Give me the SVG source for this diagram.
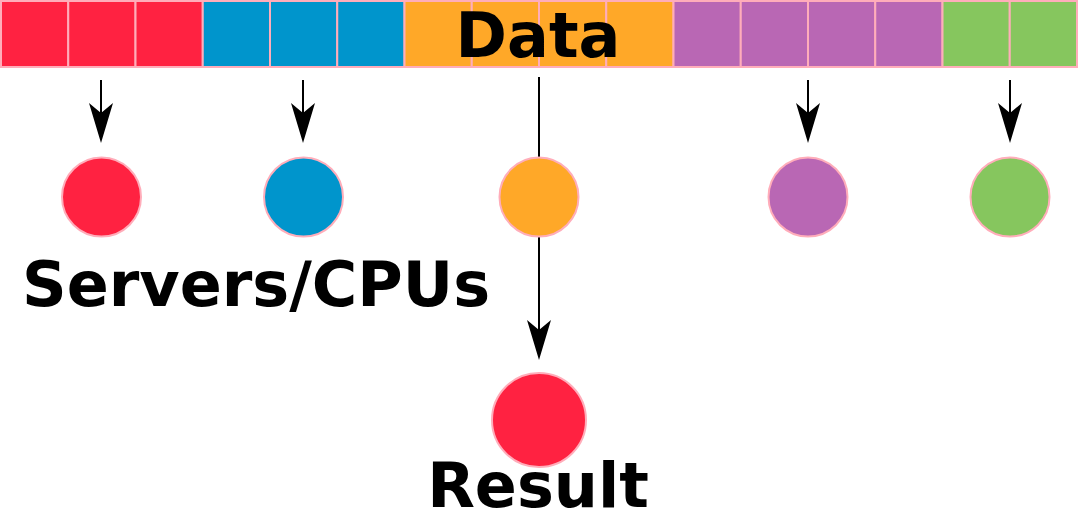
<svg xmlns="http://www.w3.org/2000/svg" width="1078" height="511" viewBox="0 0 1078 511">
<style>
.cell{stroke:#ffadba;stroke-width:2}
.node{stroke:#ffadba;stroke-width:2}
.r{fill:#ff2241}.b{fill:#0095cc}.o{fill:#ffa828}.p{fill:#b967b4}.g{fill:#86c65e}
.lbl{font-family:"DejaVu Sans",sans-serif;font-weight:bold;font-size:62px;fill:#000}
.conn{stroke:#000;stroke-width:2;fill:none}
</style>
<defs>
<marker id="ah" markerUnits="userSpaceOnUse" viewBox="0 0 40 24" markerWidth="40" markerHeight="24" refX="10" refY="12" orient="auto">
<path d="M0,0 L40,12 L0,24 L10,12 Z" fill="#000"/>
</marker>
</defs>
<g id="data">
<rect class="cell r" x="1" y="1" width="67.25" height="66"/>
<rect class="cell r" x="68.25" y="1" width="67.25" height="66"/>
<rect class="cell r" x="135.5" y="1" width="67.25" height="66"/>
<rect class="cell b" x="202.75" y="1" width="67.25" height="66"/>
<rect class="cell b" x="270" y="1" width="67.25" height="66"/>
<rect class="cell b" x="337.25" y="1" width="67.25" height="66"/>
<rect class="cell o" x="404.5" y="1" width="67.25" height="66"/>
<rect class="cell o" x="471.75" y="1" width="67.25" height="66"/>
<rect class="cell o" x="539" y="1" width="67.25" height="66"/>
<rect class="cell o" x="606.25" y="1" width="67.25" height="66"/>
<rect class="cell p" x="673.5" y="1" width="67.25" height="66"/>
<rect class="cell p" x="740.75" y="1" width="67.25" height="66"/>
<rect class="cell p" x="808" y="1" width="67.25" height="66"/>
<rect class="cell p" x="875.25" y="1" width="67.25" height="66"/>
<rect class="cell g" x="942.5" y="1" width="67.25" height="66"/>
<rect class="cell g" x="1009.75" y="1" width="67.25" height="66"/>
<text class="lbl" x="538" y="57" text-anchor="middle">Data</text>
</g>
<g id="connectors">
<line class="conn" x1="101" y1="80" x2="101" y2="113" marker-end="url(#ah)"/>
<line class="conn" x1="303" y1="80" x2="303" y2="113" marker-end="url(#ah)"/>
<line class="conn" x1="808" y1="80" x2="808" y2="113" marker-end="url(#ah)"/>
<line class="conn" x1="1010" y1="80" x2="1010" y2="113" marker-end="url(#ah)"/>
<line class="conn" x1="539" y1="77" x2="539" y2="158"/>
<line class="conn" x1="539" y1="237" x2="539" y2="330" marker-end="url(#ah)"/>
</g>
<g id="cpu1"><circle class="node r" cx="101.5" cy="197" r="39.5"/></g>
<g id="cpu2"><circle class="node b" cx="303.5" cy="197" r="39.5"/></g>
<g id="cpu3"><circle class="node o" cx="539" cy="197" r="39.5"/></g>
<g id="cpu4"><circle class="node p" cx="808" cy="197" r="39.5"/></g>
<g id="cpu5"><circle class="node g" cx="1010" cy="197" r="39.5"/></g>
<g id="servers-label"><text class="lbl" x="22" y="306">Servers/CPUs</text></g>
<g id="result">
<circle class="node r" cx="539" cy="420" r="47"/>
<text class="lbl" x="538" y="507" text-anchor="middle">Result</text>
</g>
</svg>
